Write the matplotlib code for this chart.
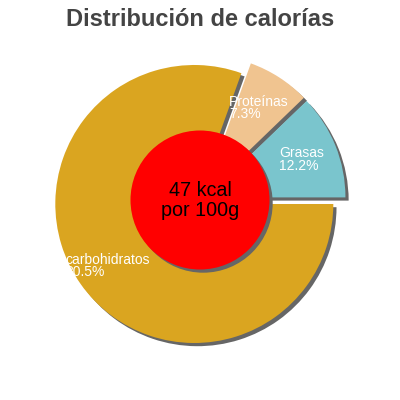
import matplotlib
matplotlib.use("Agg")
import matplotlib.pyplot as plt
from matplotlib.patches import Circle

title = "Distribución de calorías"
labels = ["Grasas", "Proteínas", "carbohidratos"]
values = [12.2, 7.3, 80.5]
colors = ["#7ac5cd", "#f0c490", "#daa520"]
center_text = "47 kcal\npor 100g"

H = 400
fig = plt.figure(figsize=(4, 4), dpi=100)
ax = fig.add_axes([0, 0, 1, 1])

cx, cy = 200, H - 200
R = 139
explode = [0.05 * R] * len(values)
sh = 3.2

# shadows
ax.pie(values, startangle=0, counterclock=True, explode=explode,
       center=(cx + sh, cy - sh), radius=R, colors=["#666666"] * len(values),
       wedgeprops=dict(linewidth=0), frame=True)
# wedges
ax.pie(values, startangle=0, counterclock=True, explode=explode,
       center=(cx, cy), radius=R, colors=colors,
       wedgeprops=dict(linewidth=0), frame=True)
ax.set_xlim(0, 400)
ax.set_ylim(0, 400)
ax.set_aspect("equal")
ax.axis("off")

# centre circle with shadow
ax.add_patch(Circle((cx + sh, cy - sh), R / 2, color="#666666", lw=0, zorder=5))
ax.add_patch(Circle((cx, cy), R / 2, color="#ff0000", lw=0, zorder=6))

ax.text(cx, H - 181.5, center_text, ha="center", va="top", fontsize=14.2,
        family="Liberation Sans", color="black", zorder=7,
        multialignment="center", linespacing=1.0)

# slice labels (name + percent)
label_pos = {"Grasas": (279, 146.3),
             "Proteínas": (229, 94.5),
             "carbohidratos": (65, 252.5)}
for lab, v in zip(labels, values):
    x, y = label_pos[lab]
    ax.text(x, H - y, f"{lab}\n{v:.1f}%", ha="left", va="top", fontsize=10,
            family="Liberation Sans", color="white", zorder=8,
            linespacing=0.9)

fig.text(0.5, 1 - 26 / H, title, ha="center", va="baseline", fontsize=17,
         fontweight="bold", family="Liberation Sans", color="#444444")

fig.savefig("out.png", dpi=100)
